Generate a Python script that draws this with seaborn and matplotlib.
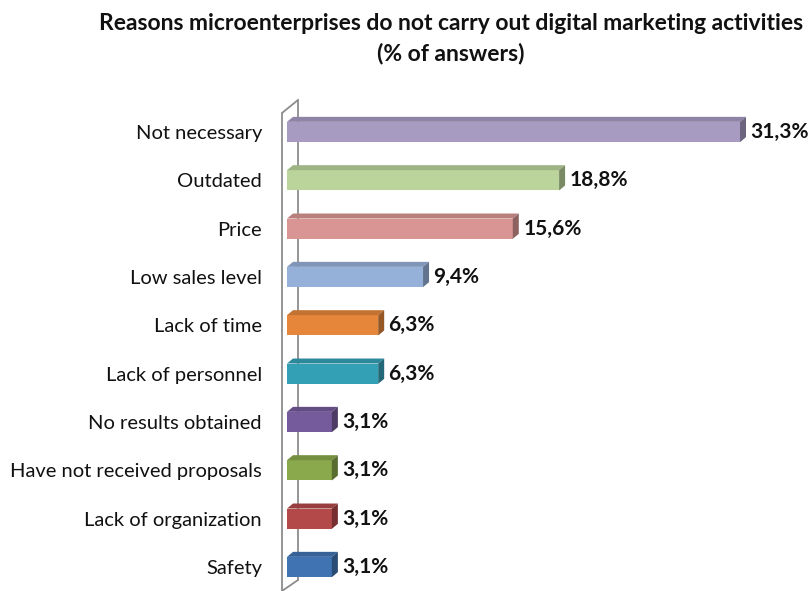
import matplotlib
matplotlib.use("Agg")
import matplotlib.pyplot as plt
import seaborn as sns
import pandas as pd
import numpy as np
from matplotlib.patches import Polygon
from matplotlib.lines import Line2D
import matplotlib.colors as mcolors

categories = ["Not necessary", "Outdated", "Price", "Low sales level", "Lack of time",
              "Lack of personnel", "No results obtained", "Have not received proposals",
              "Lack of organization", "Safety"]
values = [31.3, 18.8, 15.6, 9.4, 6.3, 6.3, 3.1, 3.1, 3.1, 3.1]
labels = ["31,3%", "18,8%", "15,6%", "9,4%", "6,3%", "6,3%", "3,1%", "3,1%", "3,1%", "3,1%"]
colors = ["#A89BC2", "#BBD49B", "#D89593", "#95B1D9", "#E5863A",
          "#34A0B6", "#765B9C", "#8AA84C", "#B4494A", "#3F73B2"]

sns.set_theme(style="white")
plt.rcParams['font.family'] = ['Lato', 'DejaVu Sans']

W, H = 810, 591
fig = plt.figure(figsize=(W / 100, H / 100), dpi=100)
ax_left, ax_right = 287, 800
ax_top, ax_bot = 100, 591
ax = fig.add_axes([ax_left / W, 1 - ax_bot / H, (ax_right - ax_left) / W, (ax_bot - ax_top) / H])

df = pd.DataFrame({"cat": categories, "val": values})
sns.barplot(data=df, y="cat", x="val", hue="cat", palette=colors, legend=False,
            orient="h", width=0.42, ax=ax, saturation=1, edgecolor="none")

px_per_unit = 453 / 31.3
ax.set_xlim(0, (ax_right - ax_left) / px_per_unit)
row_px = 48.33
ax.set_ylim(9 + (591 - 567) / row_px, 0 - (132 - 100) / row_px)

# 3D effect derived from bar geometry
dx = 6 / px_per_unit
dy = 5 / row_px
for patch, col in zip(ax.patches, colors):
    x0 = patch.get_x(); w = patch.get_width()
    y0 = patch.get_y(); h = patch.get_height()
    ytop = min(y0, y0 + h); ybot = max(y0, y0 + h)
    base = np.array(mcolors.to_rgb(col))
    top_c = base * 0.85
    side_c = base * 0.65
    top = Polygon([[x0, ytop], [x0 + w, ytop], [x0 + w + dx, ytop - dy], [x0 + dx, ytop - dy]],
                  closed=True, facecolor=top_c, edgecolor="none", zorder=patch.get_zorder())
    side = Polygon([[x0 + w, ytop], [x0 + w + dx, ytop - dy], [x0 + w + dx, ybot - dy], [x0 + w, ybot]],
                   closed=True, facecolor=side_c, edgecolor="none", zorder=patch.get_zorder())
    ax.add_patch(top); ax.add_patch(side)

for i, (v, lab) in enumerate(zip(values, labels)):
    ax.text(v + dx + 0.3, i, lab, va="center", ha="left", fontsize=15,
            fontweight="bold", color="#111111")

ax.set_xlabel(""); ax.set_ylabel("")
ax.set_xticks([])
ax.tick_params(axis="y", length=0, pad=18, labelsize=14.5, labelcolor="#111111")
for s in ax.spines.values():
    s.set_visible(False)

# wall lines (decorative frame)
gray = "#8C8C8C"
fig.add_artist(Line2D([282 / W, 282 / W], [1 - 113 / H, 0], color=gray, lw=1.3))
fig.add_artist(Line2D([298 / W, 298 / W], [1 - 100 / H, 1 - 580 / H], color=gray, lw=1.3, zorder=0))
fig.add_artist(Line2D([282 / W, 298 / W], [1 - 113 / H, 1 - 100 / H], color=gray, lw=1.3))
fig.add_artist(Line2D([282 / W, 298 / W], [1 - 591 / H, 1 - 580 / H], color=gray, lw=1.3))
ax.set_zorder(1)
ax.patch.set_alpha(0)

fig.text(451 / W, 1 - 23 / H, "Reasons microenterprises do not carry out digital marketing activities",
         ha="center", va="center", fontsize=16.5, fontweight="bold", color="#111111")
fig.text(451 / W, 1 - 53 / H, "(% of answers)", ha="center", va="center",
         fontsize=16.5, fontweight="bold", color="#111111")

fig.savefig("out.png", dpi=100)
